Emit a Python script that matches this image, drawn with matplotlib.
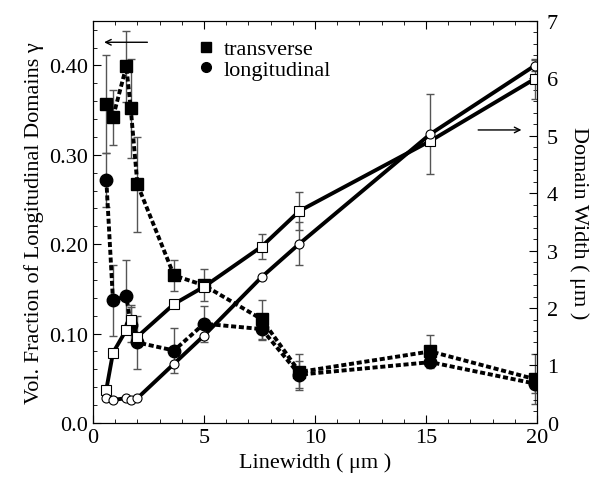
import matplotlib.pyplot as plt
import numpy as np
from matplotlib.ticker import MultipleLocator
from matplotlib.lines import Line2D

plt.rcParams['font.family'] = ['Liberation Serif', 'DejaVu Serif']
plt.rcParams['mathtext.fontset'] = 'dejavuserif'

# Linewidth (um)
x = [0.6, 0.9, 1.5, 1.7, 2.0, 3.65, 5.0, 7.6, 9.3, 15.2, 19.9]

# Vol. fraction (left axis)
trans_frac = [0.357, 0.342, 0.399, 0.352, 0.267, 0.165, 0.154, 0.116, 0.057, 0.080, 0.049]
trans_err = [0.055, 0.031, 0.040, 0.055, 0.053, 0.017, 0.018, 0.022, 0.020, 0.018, 0.028]
long_frac = [0.272, 0.137, 0.142, 0.110, 0.090, 0.081, 0.111, 0.105, 0.054, 0.068, 0.044]
long_err = [0.030, 0.040, 0.040, 0.020, 0.030, 0.025, 0.020, 0.012, 0.015, 0.007, 0.010]

# Domain width (right axis)
trans_w = [0.58, 1.22, 1.62, 1.80, 1.50, 2.07, 2.37, 3.07, 3.69, 4.91, 5.99]
trans_w_err = [0, 0, 0, 0.25, 0, 0, 0, 0.22, 0.33, 0, 0.35]
long_w = [0.44, 0.40, 0.43, 0.40, 0.43, 1.03, 1.52, 2.54, 3.12, 5.03, 6.22]
long_w_err = [0, 0, 0, 0, 0, 0, 0, 0, 0.37, 0.70, 0.10]

fig = plt.figure(figsize=(6, 4.85), dpi=100)
ax = fig.add_axes([0.155, 0.126, 0.74, 0.829])
ax2 = ax.twinx()

dash = (0, (1.3, 0.7))
ecol = '#555555'

ax.errorbar(x, trans_frac, yerr=trans_err, fmt='none', ecolor=ecol, elinewidth=1, capsize=3)
ax.errorbar(x, long_frac, yerr=long_err, fmt='none', ecolor=ecol, elinewidth=1, capsize=3)
ax.plot(x, trans_frac, color='black', linestyle=dash, linewidth=2.8,
        marker='s', markersize=9)
ax.plot(x, long_frac, color='black', linestyle=dash, linewidth=2.8,
        marker='o', markersize=9)

ax2.errorbar(x, trans_w, yerr=trans_w_err, fmt='none', ecolor=ecol, elinewidth=1, capsize=3)
ax2.errorbar(x, long_w, yerr=long_w_err, fmt='none', ecolor=ecol, elinewidth=1, capsize=3)
ax2.plot(x, trans_w, color='black', linewidth=2.8, marker='s', markersize=6.5,
         markerfacecolor='white', markeredgewidth=0.8)
ax2.plot(x, long_w, color='black', linewidth=2.8, marker='o', markersize=6.5,
         markerfacecolor='white', markeredgewidth=0.8)

ax.set_xlim(0, 20)
ax.set_ylim(0, 0.45)
ax2.set_ylim(0, 7)

ax.set_xticks([0, 5, 10, 15, 20])
ax.xaxis.set_minor_locator(MultipleLocator(1))
ax.set_yticks([0.0, 0.1, 0.2, 0.3, 0.4])
ax.set_yticklabels(['0.0', '0.10', '0.20', '0.30', '0.40'])
ax.yaxis.set_minor_locator(MultipleLocator(0.02))
ax2.set_yticks(range(0, 8))
ax2.yaxis.set_minor_locator(MultipleLocator(0.2))

ax.tick_params(which='both', direction='in', top=True, labelsize=16)
ax.tick_params(which='major', length=6)
ax.tick_params(which='minor', length=3)
ax2.tick_params(which='both', direction='in', labelsize=16, pad=7)
ax2.tick_params(which='major', length=6)
ax2.tick_params(which='minor', length=3)

ax.set_xlabel('Linewidth ( μm )', fontsize=16)
ax.set_ylabel('Vol. Fraction of Longitudinal Domains γ', fontsize=16)
ax2.set_ylabel('Domain Width ( μm )', fontsize=16, rotation=270, labelpad=22)

handles = [Line2D([], [], color='black', linestyle='None', marker='s', markersize=7),
           Line2D([], [], color='black', linestyle='None', marker='o', markersize=7)]
ax.legend(handles, ['transverse', 'longitudinal'], loc='upper left',
          bbox_to_anchor=(0.19, 1.005), frameon=False, fontsize=16,
          handlelength=0.8, handletextpad=0.4, labelspacing=0.0)

ax.annotate('', xy=(0.5, 0.426), xytext=(2.45, 0.426),
            arrowprops=dict(arrowstyle='->', color='black', lw=1, shrinkA=0, shrinkB=0))
ax2.annotate('', xy=(19.3, 5.1), xytext=(17.35, 5.1),
             arrowprops=dict(arrowstyle='->', color='black', lw=1, shrinkA=0, shrinkB=0))

fig.savefig('out.png', dpi=100)
